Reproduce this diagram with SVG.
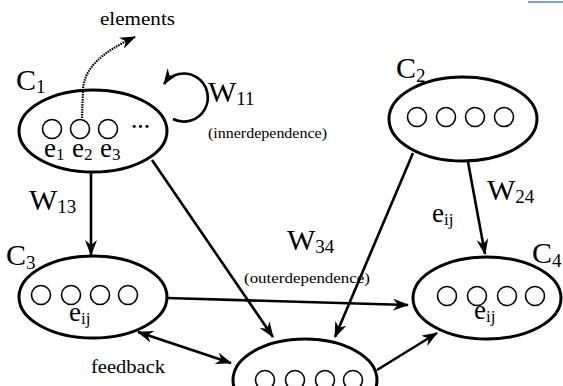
<svg xmlns="http://www.w3.org/2000/svg" width="563" height="386" viewBox="0 0 563 386">
<style>
  .cl { fill: #fff; stroke: #000; stroke-width: 3; }
  .el { fill: #fff; stroke: #000; stroke-width: 1.6; }
  .tx { font-family: "Liberation Serif", "Times New Roman", "DejaVu Serif", serif; }
  .big { font-size: 30px; }
  .sub { font-size: 19px; }
  .e { font-size: 27px; }
  .es { font-size: 17px; }
  .lab { font-size: 19px; }
  .sm { font-size: 15px; }
  .cn { fill: none; stroke: #000; stroke-width: 2.6; }
</style>
<defs>
  <marker id="ah" viewBox="0 0 16 12" refX="15" refY="6" markerWidth="16" markerHeight="12" markerUnits="userSpaceOnUse" orient="auto-start-reverse">
    <path d="M0,0 L16,6 L0,12 L5,6 z" fill="#000"/>
  </marker>
</defs>
<rect width="563" height="386" fill="#fff"/>
<line x1="528" y1="2" x2="563" y2="2" stroke="#4a86d0" stroke-width="1.5"/>

<g id="connectors">
  <path class="cn" d="M91,173 L91,255" marker-end="url(#ah)"/>
  <path class="cn" d="M152,160 L273,337" marker-end="url(#ah)"/>
  <path class="cn" d="M413,153 L335,337" marker-end="url(#ah)"/>
  <path class="cn" d="M468,162 L485,254" marker-end="url(#ah)"/>
  <path class="cn" d="M167,298 L408,305" marker-end="url(#ah)"/>
  <path class="cn" d="M377,370 L437,333" marker-end="url(#ah)"/>
  <path class="cn" d="M138,332 L231,363" marker-start="url(#ah)" marker-end="url(#ah)"/>
  <path class="cn" d="M173,119 A24,24 0 1 0 164,84" marker-end="url(#ah)"/>
</g>

<g class="tx" fill="#000">
<g id="C1">
  <ellipse class="cl" cx="93" cy="131" rx="74" ry="41"/>
  <circle class="el" cx="52" cy="129" r="9.5"/>
  <circle class="el" cx="80" cy="129" r="9.5"/>
  <circle class="el" cx="108" cy="129" r="9.5"/>
  <text class="lab" x="131" y="133" font-weight="bold">···</text>
  <text class="e" x="44" y="157">e<tspan class="es" dy="3">1</tspan></text>
  <text class="e" x="72" y="157">e<tspan class="es" dy="3">2</tspan></text>
  <text class="e" x="100" y="157">e<tspan class="es" dy="3">3</tspan></text>
  <text class="big" x="16" y="90">C<tspan class="sub" dy="3">1</tspan></text>
</g>

<g id="C2">
  <ellipse class="cl" cx="463" cy="119" rx="74" ry="42"/>
  <circle class="el" cx="417" cy="117" r="9.5"/>
  <circle class="el" cx="446" cy="117" r="9.5"/>
  <circle class="el" cx="475" cy="117" r="9.5"/>
  <circle class="el" cx="504" cy="117" r="9.5"/>
  <text class="big" x="396" y="78">C<tspan class="sub" dy="4">2</tspan></text>
</g>

<g id="C3">
  <ellipse class="cl" cx="93" cy="297" rx="74" ry="41"/>
  <circle class="el" cx="41" cy="295" r="9.5"/>
  <circle class="el" cx="71" cy="295" r="9.5"/>
  <circle class="el" cx="100" cy="295" r="9.5"/>
  <circle class="el" cx="128" cy="295" r="9.5"/>
  <text class="e" x="69" y="321">e<tspan class="es" dy="3">ij</tspan></text>
  <text class="big" x="6" y="265">C<tspan class="sub" dy="4">3</tspan></text>
</g>

<g id="C4">
  <ellipse class="cl" cx="487" cy="298" rx="74" ry="41"/>
  <circle class="el" cx="447" cy="296" r="9.5"/>
  <circle class="el" cx="477" cy="296" r="9.5"/>
  <circle class="el" cx="507" cy="296" r="9.5"/>
  <circle class="el" cx="535" cy="296" r="9.5"/>
  <text class="e" x="474" y="319">e<tspan class="es" dy="3">ij</tspan></text>
  <text class="big" x="532" y="263">C<tspan class="sub" dy="4">4</tspan></text>
</g>

<g id="C5">
  <ellipse class="cl" cx="305" cy="380" rx="72" ry="41"/>
  <circle class="el" cx="265" cy="380" r="9.5"/>
  <circle class="el" cx="295" cy="380" r="9.5"/>
  <circle class="el" cx="325" cy="380" r="9.5"/>
  <circle class="el" cx="353" cy="380" r="9.5"/>
</g>

<g id="labels">
  <path d="M82,118 L83,90 C84,68 102,52 135,37" fill="none" stroke="#000" stroke-width="2.2" stroke-dasharray="1.5,1" marker-end="url(#ah)"/>
  <text class="lab" x="100" y="25" textLength="75" lengthAdjust="spacingAndGlyphs">elements</text>
  <text class="big" x="208" y="102">W<tspan class="sub" dy="3">11</tspan></text>
  <text class="sm" x="208" y="138" textLength="119" lengthAdjust="spacingAndGlyphs">(innerdependence)</text>
  <text class="big" x="29" y="210">W<tspan class="sub" dy="3">13</tspan></text>
  <text class="big" x="287" y="250">W<tspan class="sub" dy="3">34</tspan></text>
  <text class="sm" x="244" y="283" textLength="126" lengthAdjust="spacingAndGlyphs">(outerdependence)</text>
  <text class="big" x="487" y="200">W<tspan class="sub" dy="3">24</tspan></text>
  <text class="e" x="432" y="222">e<tspan class="es" dy="3">ij</tspan></text>
  <text class="lab" x="91" y="373" textLength="74" lengthAdjust="spacingAndGlyphs">feedback</text>
</g>
</g>
</svg>
